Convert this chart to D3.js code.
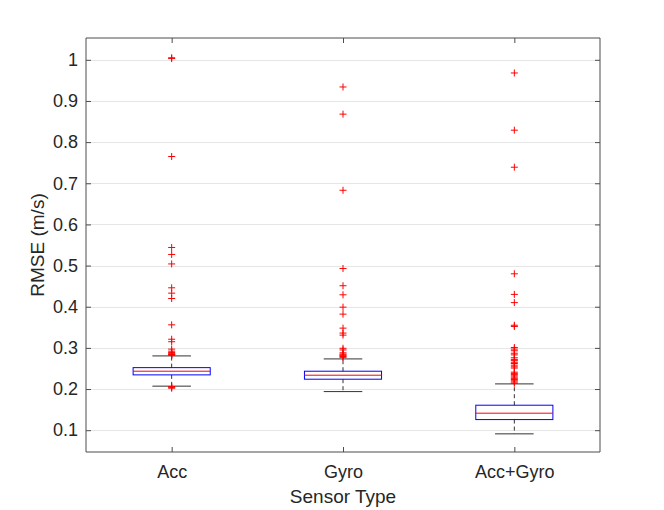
<!DOCTYPE html>
<html>
<head>
<meta charset="utf-8">
<script src="https://cdn.jsdelivr.net/npm/d3@7"></script>
<style>
  body { margin: 0; background: #fff; }
  text { font-family: "Liberation Sans", Arial, sans-serif; fill: #262626; }
</style>
</head>
<body>
<script>
// --- data ---
const categories = ["Acc", "Gyro", "Acc+Gyro"];
// [lower whisker, q1, median, q3, upper whisker]
const accBox  = [0.207, 0.2344, 0.2433, 0.252, 0.2805];
const gyroBox = [0.1938, 0.2239, 0.2336, 0.2433, 0.2732];
const bothBox = [0.0911, 0.1258, 0.1413, 0.1607, 0.2125];

const accOutliers = [1.005, 1.003, 0.765, 0.544, 0.527, 0.504, 0.446, 0.433, 0.420,
  0.356, 0.321, 0.315, 0.297, 0.292, 0.289, 0.287, 0.285, 0.284, 0.283, 0.282,
  0.206, 0.204, 0.202];
const gyroOutliers = [0.934, 0.868, 0.683, 0.493, 0.451, 0.429, 0.399, 0.382, 0.348,
  0.336, 0.331, 0.299, 0.295, 0.288, 0.285, 0.283, 0.281, 0.279, 0.277];
const bothOutliers = [0.968, 0.829, 0.739, 0.480, 0.430, 0.410, 0.355, 0.352, 0.301,
  0.297, 0.293, 0.287, 0.283, 0.276, 0.272, 0.269, 0.265, 0.262, 0.258, 0.254, 0.251,
  0.241, 0.238, 0.235, 0.232, 0.229, 0.226, 0.223, 0.220, 0.217, 0.214];

const yTicks = [0.1, 0.2, 0.3, 0.4, 0.5, 0.6, 0.7, 0.8, 0.9, 1];

const boxes = [accBox, gyroBox, bothBox];
const outliers = [accOutliers, gyroOutliers, bothOutliers];

// --- layout ---
const W = 664, H = 510;
const plot = {left: 86, right: 600, top: 38, bottom: 452};

const svg = d3.select("body").append("svg")
  .attr("width", W).attr("height", H);

const x = d3.scaleLinear().domain([0.5, 3.5]).range([plot.left, plot.right]);
const y = d3.scaleLinear().domain([0.047, 1.053]).range([plot.bottom, plot.top]);

// grid
svg.append("g").selectAll("line")
  .data(yTicks).enter().append("line")
    .attr("x1", plot.left).attr("x2", plot.right)
    .attr("y1", d => Math.round(y(d)) + 0.5).attr("y2", d => Math.round(y(d)) + 0.5)
    .attr("stroke", "#e6e6e6").attr("stroke-width", 1);

// boxes
const bw = 0.225, cw = 0.1125;
const g = svg.append("g");
boxes.forEach((b, i) => {
  const cx = x(i + 1);
  const [lo, q1, med, q3, hi] = b;
  // whiskers (dashed)
  g.append("line").attr("x1", cx).attr("x2", cx).attr("y1", y(q3)).attr("y2", y(hi))
    .attr("stroke", "#333").attr("stroke-width", 1).attr("stroke-dasharray", "4,3");
  g.append("line").attr("x1", cx).attr("x2", cx).attr("y1", y(q1)).attr("y2", y(lo))
    .attr("stroke", "#333").attr("stroke-width", 1).attr("stroke-dasharray", "4,3");
  // caps
  [lo, hi].forEach(v => {
    g.append("line").attr("x1", x(i + 1 - cw)).attr("x2", x(i + 1 + cw))
      .attr("y1", y(v)).attr("y2", y(v))
      .attr("stroke", "#333").attr("stroke-width", 1);
  });
  // box
  g.append("rect")
    .attr("x", x(i + 1 - bw)).attr("y", y(q3))
    .attr("width", x(i + 1 + bw) - x(i + 1 - bw)).attr("height", y(q1) - y(q3))
    .attr("fill", "none").attr("stroke", "#0000ff").attr("stroke-width", 1);
  // median
  g.append("line").attr("x1", x(i + 1 - bw)).attr("x2", x(i + 1 + bw))
    .attr("y1", y(med)).attr("y2", y(med))
    .attr("stroke", "#ff0000").attr("stroke-width", 1);
  // outliers
  const m = 3.5;
  outliers[i].forEach(v => {
    g.append("path")
      .attr("d", `M${cx - m},${y(v)}H${cx + m}M${cx},${y(v) - m}V${y(v) + m}`)
      .attr("stroke", "#ff0000").attr("stroke-width", 1).attr("fill", "none");
  });
});

// axes box
const axisColor = "#4d4d4d";
svg.append("line").attr("x1", plot.left).attr("x2", plot.right).attr("y1", plot.top).attr("y2", plot.top)
  .attr("stroke", axisColor);
svg.append("line").attr("x1", plot.left).attr("x2", plot.right).attr("y1", plot.bottom).attr("y2", plot.bottom)
  .attr("stroke", axisColor);
svg.append("line").attr("x1", plot.left).attr("x2", plot.left).attr("y1", plot.top).attr("y2", plot.bottom)
  .attr("stroke", axisColor);
svg.append("line").attr("x1", plot.right).attr("x2", plot.right).attr("y1", plot.top).attr("y2", plot.bottom)
  .attr("stroke", axisColor);

// y axis (left) with inward ticks
const yAxis = svg.append("g").attr("transform", `translate(${plot.left},0)`)
  .call(d3.axisLeft(y).tickValues(yTicks).tickSize(-5).tickPadding(8).tickFormat(d3.format("")));
yAxis.select(".domain").remove();
yAxis.selectAll("line").attr("stroke", axisColor);
yAxis.selectAll("text").style("font-size", "18px").attr("fill", "#262626");

// right ticks
const yAxisR = svg.append("g").attr("transform", `translate(${plot.right},0)`)
  .call(d3.axisRight(y).tickValues(yTicks).tickSize(-5).tickFormat(""));
yAxisR.select(".domain").remove();
yAxisR.selectAll("line").attr("stroke", axisColor);

// x axis (bottom)
const xAxis = svg.append("g").attr("transform", `translate(0,${plot.bottom})`)
  .call(d3.axisBottom(x).tickValues([1, 2, 3]).tickSize(-5).tickPadding(13)
    .tickFormat(d => categories[d - 1]));
xAxis.select(".domain").remove();
xAxis.selectAll("line").attr("stroke", axisColor);
xAxis.selectAll("text").style("font-size", "18px").attr("fill", "#262626");

// top ticks
const xAxisT = svg.append("g").attr("transform", `translate(0,${plot.top})`)
  .call(d3.axisTop(x).tickValues([1, 2, 3]).tickSize(-5).tickFormat(""));
xAxisT.select(".domain").remove();
xAxisT.selectAll("line").attr("stroke", axisColor);

// labels
svg.append("text")
  .attr("x", (plot.left + plot.right) / 2).attr("y", 502.5)
  .attr("text-anchor", "middle").style("font-size", "19px")
  .text("Sensor Type");
svg.append("text")
  .attr("transform", `translate(43.5,${(plot.top + plot.bottom) / 2}) rotate(-90)`)
  .attr("text-anchor", "middle").style("font-size", "19px")
  .text("RMSE (m/s)");
</script>
</body>
</html>
